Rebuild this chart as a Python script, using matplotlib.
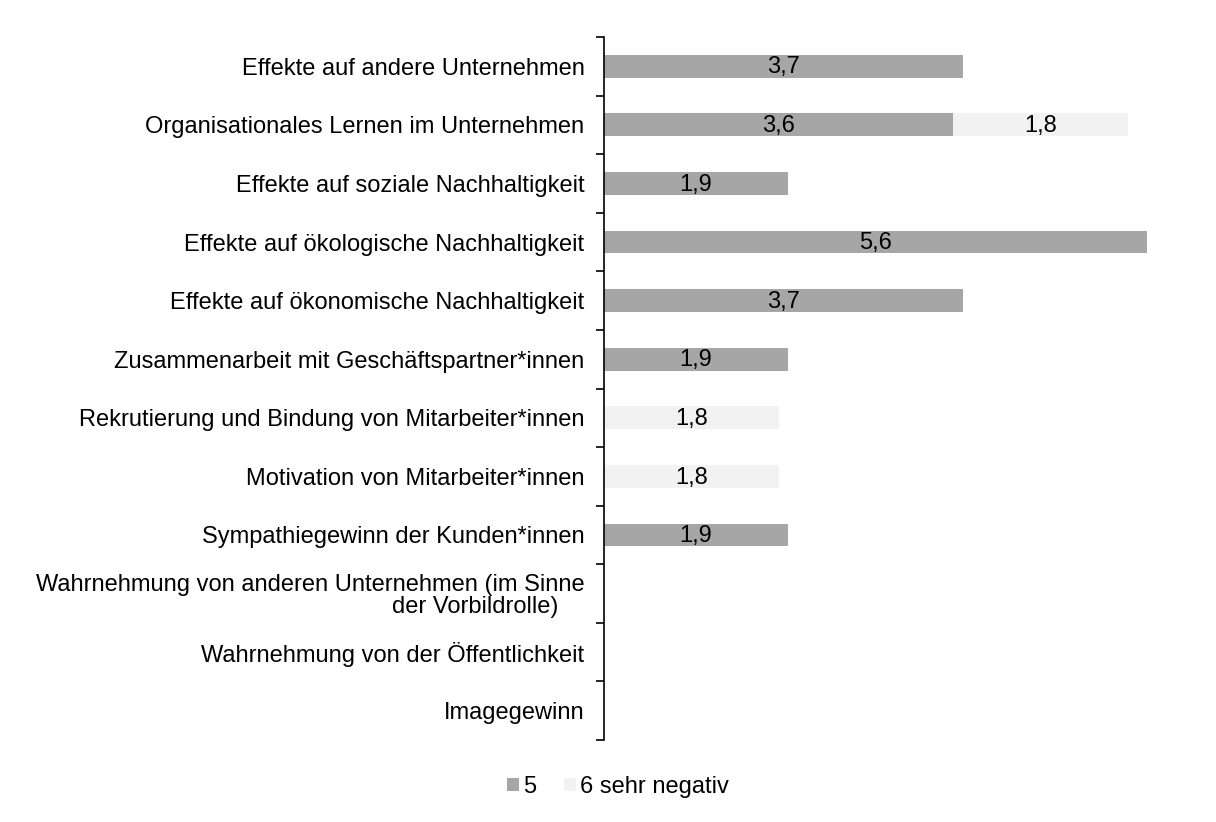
import numpy as np
import matplotlib.pyplot as plt

plt.rcParams['font.family'] = ['Liberation Sans', 'DejaVu Sans']

# data (top to bottom)
categories = [
    "Effekte auf andere Unternehmen",
    "Organisationales Lernen im Unternehmen",
    "Effekte auf soziale Nachhaltigkeit",
    "Effekte auf ökologische Nachhaltigkeit",
    "Effekte auf ökonomische Nachhaltigkeit",
    "Zusammenarbeit mit Geschäftspartner*innen",
    "Rekrutierung und Bindung von Mitarbeiter*innen",
    "Motivation von Mitarbeiter*innen",
    "Sympathiegewinn der Kunden*innen",
    "Wahrnehmung von anderen Unternehmen (im Sinne\nder Vorbildrolle)    ",
    "Wahrnehmung von der Öffentlichkeit",
    "Imagegewinn",
]
val_5 = [3.7, 3.6, 1.9, 5.6, 3.7, 1.9, 0, 0, 1.9, 0, 0, 0]
val_6 = [0, 1.8, 0, 0, 0, 0, 1.8, 1.8, 0, 0, 0, 0]
series_names = ["5", "6 sehr negativ"]
colors = ["#A6A6A6", "#F2F2F2"]
FS = 17

fig = plt.figure(figsize=(12.16, 8.22), dpi=100)
ax = fig.add_axes([604 / 1216, 1 - 740 / 822, (1147 - 604) / 1216, 703 / 822])

y = np.arange(len(categories))
v5 = np.array(val_5)
v6 = np.array(val_6)
h = 0.39

b1 = ax.barh(y, v5, height=h, color=colors[0], label=series_names[0])
b2 = ax.barh(y, v6, left=v5, height=h, color=colors[1], label=series_names[1])

for bars, vals in ((b1, v5), (b2, v6)):
    for bar, v in zip(bars, vals):
        if v > 0:
            ax.text(bar.get_x() + bar.get_width() / 2, bar.get_y() + bar.get_height() / 2 + 0.02,
                    f"{v:.1f}".replace(".", ","), ha="center", va="center",
                    fontsize=FS, color="#000000")

ax.set_xlim(0, 5.6)
ax.set_ylim(len(categories) - 0.5, -0.5)
ax.set_yticks(y)
ax.set_yticklabels(categories, fontsize=FS, linespacing=1.0)
ax.tick_params(axis="y", which="major", length=0, pad=14)
ax.set_yticks(np.arange(-0.5, len(categories)), minor=True)
ax.tick_params(axis="y", which="minor", length=6, width=1.2, direction="out")
ax.set_xticks([])
for s in ["top", "right", "bottom"]:
    ax.spines[s].set_visible(False)
ax.spines["left"].set_linewidth(1.2)

fig.legend(handles=[b1, b2], labels=series_names, loc="center",
           bbox_to_anchor=(618 / 1216, 1 - 787 / 822), ncol=2, frameon=False,
           fontsize=FS, handlelength=0.5, handleheight=0.5, handletextpad=0.2,
           columnspacing=1.15)

plt.savefig("out.png", dpi=100)
